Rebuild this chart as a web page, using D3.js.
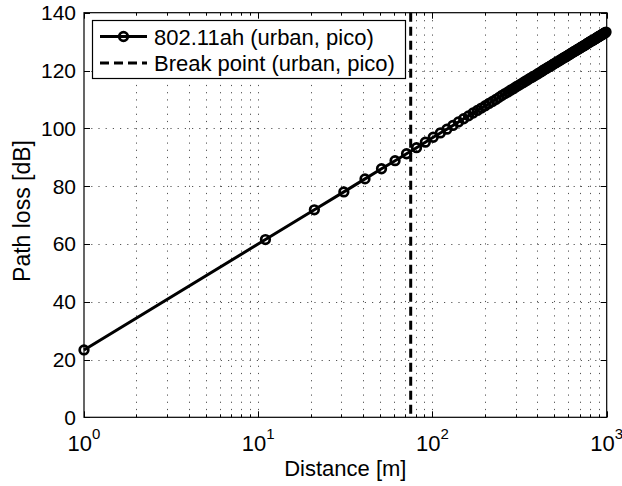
<!DOCTYPE html>
<html>
<head>
<meta charset="utf-8">
<script src="https://cdn.jsdelivr.net/npm/d3@7"></script>
<style>
	body { margin: 0; background: #fff; }
	text { font-family: "Liberation Sans", Arial, sans-serif; fill: #000; }
</style>
</head>
<body>
<div id="chart"></div>
<script>
// distance [m] of each plotted point
var distances = [1, 11, 21, 31, 41, 51, 61, 71, 81, 91,
	101, 111, 121, 131, 141, 151, 161, 171, 181, 191,
	201, 211, 221, 231, 241, 251, 261, 271, 281, 291,
	301, 311, 321, 331, 341, 351, 361, 371, 381, 391,
	401, 411, 421, 431, 441, 451, 461, 471, 481, 491,
	501, 511, 521, 531, 541, 551, 561, 571, 581, 591,
	601, 611, 621, 631, 641, 651, 661, 671, 681, 691,
	701, 711, 721, 731, 741, 751, 761, 771, 781, 791,
	801, 811, 821, 831, 841, 851, 861, 871, 881, 891,
	901, 911, 921, 931, 941, 951, 961, 971, 981, 991];

// path loss [dB]
var pathLoss = [23.3, 61.5, 71.8, 78.0, 82.5, 86.0, 88.8, 91.2, 93.3, 95.2,
	96.9, 98.4, 99.7, 101.0, 102.2, 103.3, 104.3, 105.3, 106.2, 107.0,
	107.8, 108.6, 109.3, 110.0, 110.7, 111.4, 112.0, 112.6, 113.2, 113.7,
	114.3, 114.8, 115.3, 115.8, 116.3, 116.7, 117.2, 117.6, 118.0, 118.4,
	118.8, 119.2, 119.6, 120.0, 120.4, 120.7, 121.1, 121.4, 121.7, 122.1,
	122.4, 122.7, 123.0, 123.3, 123.6, 123.9, 124.2, 124.5, 124.7, 125.0,
	125.3, 125.5, 125.8, 126.1, 126.3, 126.6, 126.8, 127.0, 127.3, 127.5,
	127.7, 128.0, 128.2, 128.4, 128.6, 128.8, 129.0, 129.3, 129.5, 129.7,
	129.9, 130.1, 130.3, 130.4, 130.6, 130.8, 131.0, 131.2, 131.4, 131.6,
	131.7, 131.9, 132.1, 132.3, 132.4, 132.6, 132.8, 132.9, 133.1, 133.3];

var breakPoint = [75];

var xTicks = [1, 10, 100, 1000];
var xTickExp = ["0", "1", "2", "3"];
var yTicks = [0, 20, 40, 60, 80, 100, 120, 140];

var seriesLabels = ["802.11ah (urban, pico)", "Break point (urban, pico)"];

var width = 622;
var height = 486;
var pLeft = 84, pRight = 606.7, pTop = 12.7, pBottom = 417.3;

var svg = d3.select('#chart')
	.append('svg')
	.attr('width', width)
	.attr('height', height);

var x = d3.scaleLog().domain([1, 1000]).range([pLeft, pRight]);
var y = d3.scaleLinear().domain([0, 140]).range([pBottom, pTop]);

// minor tick positions 2..9 per decade
var minorTicks = [];
for (var k = 0; k < 3; k++) {
	for (var m = 2; m <= 9; m++) {
		minorTicks.push(m * Math.pow(10, k));
	}
}

// grid (sparse dots like matlab's ':' grid)
var grid = svg.append('g')
	.attr('stroke', '#555')
	.attr('stroke-width', 1)
	.attr('stroke-dasharray', '1.2,6');

grid.selectAll('.vgrid')
	.data(minorTicks.concat([10, 100]))
	.enter()
	.append('line')
	.attr('x1', function(d) { return Math.round(x(d)) + 0.5; })
	.attr('x2', function(d) { return Math.round(x(d)) + 0.5; })
	.attr('y1', pBottom)
	.attr('y2', pTop);

grid.selectAll('.hgrid')
	.data(yTicks.slice(1, -1))
	.enter()
	.append('line')
	.attr('x1', pLeft)
	.attr('x2', pRight)
	.attr('y1', function(d) { return Math.round(y(d)) + 0.5; })
	.attr('y2', function(d) { return Math.round(y(d)) + 0.5; });

// ticks, inside, on all four sides
var ticks = svg.append('g').attr('stroke', '#000').attr('stroke-width', 1);

function xTick(d, len) {
	var px = Math.round(x(d)) + 0.5;
	ticks.append('line').attr('x1', px).attr('x2', px).attr('y1', pBottom).attr('y2', pBottom - len);
	ticks.append('line').attr('x1', px).attr('x2', px).attr('y1', pTop).attr('y2', pTop + len);
}
xTicks.forEach(function(d) { xTick(d, 6); });
minorTicks.forEach(function(d) { xTick(d, 3); });

yTicks.forEach(function(d) {
	var py = Math.round(y(d)) + 0.5;
	ticks.append('line').attr('x1', pLeft).attr('x2', pLeft + 6).attr('y1', py).attr('y2', py);
	ticks.append('line').attr('x1', pRight).attr('x2', pRight - 6).attr('y1', py).attr('y2', py);
});

// frame
svg.append('rect')
	.attr('x', pLeft)
	.attr('y', pTop)
	.attr('width', pRight - pLeft)
	.attr('height', pBottom - pTop)
	.attr('fill', 'none')
	.attr('stroke', '#000')
	.attr('stroke-width', 1.2);

// tick labels
svg.selectAll('.ylab')
	.data(yTicks)
	.enter()
	.append('text')
	.attr('x', pLeft - 8)
	.attr('y', function(d) { return y(d) + 7.5; })
	.attr('text-anchor', 'end')
	.style('font-size', '21px')
	.text(function(d) { return d; });

xTicks.forEach(function(d, i) {
	var t = svg.append('text')
		.attr('x', x(d))
		.attr('y', 451)
		.attr('text-anchor', 'middle')
		.style('font-size', '22px');
	t.append('tspan').text('10');
	t.append('tspan').attr('dy', -12).style('font-size', '15px').text(xTickExp[i]);
});

// axis titles
svg.append('text')
	.attr('x', (pLeft + pRight) / 2)
	.attr('y', 476)
	.attr('text-anchor', 'middle')
	.style('font-size', '22px')
	.text('Distance [m]');

svg.append('text')
	.attr('transform', 'translate(30,211) rotate(-90)')
	.attr('text-anchor', 'middle')
	.style('font-size', '23px')
	.text('Path loss [dB]');

// break point line
svg.selectAll('.bp')
	.data(breakPoint)
	.enter()
	.append('line')
	.attr('x1', function(d) { return x(d); })
	.attr('x2', function(d) { return x(d); })
	.attr('y1', pTop)
	.attr('y2', pBottom)
	.attr('stroke', '#000')
	.attr('stroke-width', 3)
	.attr('stroke-dasharray', '9,5');

// path loss curve
var points = distances.map(function(d, i) { return {d: d, pl: pathLoss[i]}; });

var line = d3.line()
	.x(function(p) { return x(p.d); })
	.y(function(p) { return y(p.pl); });

svg.append('path')
	.datum(points)
	.attr('d', line)
	.attr('fill', 'none')
	.attr('stroke', '#000')
	.attr('stroke-width', 3);

svg.selectAll('.marker')
	.data(points)
	.enter()
	.append('circle')
	.attr('cx', function(p) { return x(p.d); })
	.attr('cy', function(p) { return y(p.pl); })
	.attr('r', 4.3)
	.attr('fill', 'none')
	.attr('stroke', '#000')
	.attr('stroke-width', 2.7);

// legend
var legend = svg.append('g');
legend.append('rect')
	.attr('x', 92.5)
	.attr('y', 20.5)
	.attr('width', 313)
	.attr('height', 58)
	.attr('fill', '#fff')
	.attr('stroke', '#000')
	.attr('stroke-width', 1.2);

legend.append('line')
	.attr('x1', 100).attr('x2', 147).attr('y1', 36.5).attr('y2', 36.5)
	.attr('stroke', '#000').attr('stroke-width', 3);
legend.append('circle')
	.attr('cx', 123.5).attr('cy', 36.5).attr('r', 4.3)
	.attr('fill', 'none').attr('stroke', '#000').attr('stroke-width', 2.7);
legend.append('line')
	.attr('x1', 100).attr('x2', 147).attr('y1', 63).attr('y2', 63)
	.attr('stroke', '#000').attr('stroke-width', 3).attr('stroke-dasharray', '9,5');

legend.selectAll('.ltext')
	.data(seriesLabels)
	.enter()
	.append('text')
	.attr('x', 154)
	.attr('y', function(d, i) { return 44.5 + i * 26.5; })
	.style('font-size', '22px')
	.text(function(d) { return d; });
</script>
</body>
</html>
